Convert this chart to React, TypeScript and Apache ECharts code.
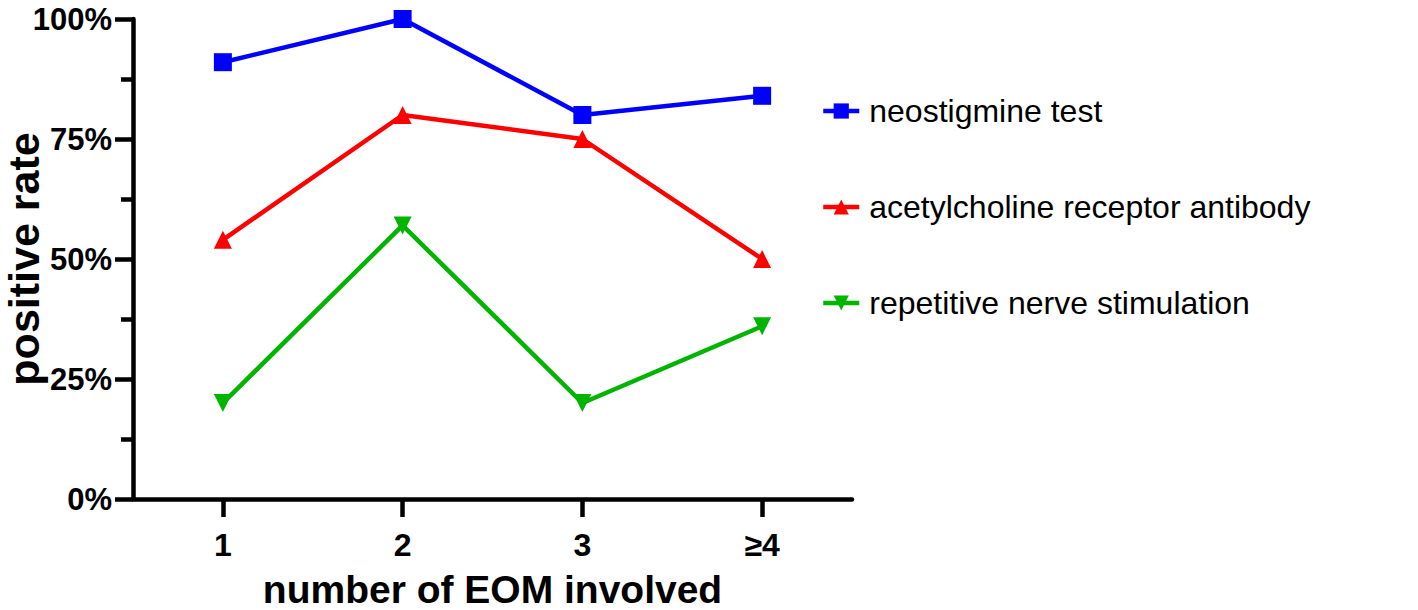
import React, { useEffect, useRef } from "react";
import * as echarts from "echarts";

const categories = ["1", "2", "3", "≥4"];
const neostigmine = [91, 100, 80, 84];
const achrAntibody = [54, 80, 75, 50];
const rns = [20, 57, 20, 36];
const yTicks = [0, 25, 50, 75, 100];

const FONT = "'Liberation Sans', Arial, Helvetica, sans-serif";

export default function App() {
  const ref = useRef<HTMLDivElement>(null);

  useEffect(() => {
    document.body.style.margin = "0";
    if (!ref.current) return;
    const chart = echarts.init(ref.current, undefined, { renderer: "svg" });
    const lineW = 4.5;
    const series = [
      { name: "neostigmine test", data: neostigmine, color: "#0000FF", symbol: "rect", size: 18, rotate: 0 },
      { name: "acetylcholine receptor antibody", data: achrAntibody, color: "#FF0000", symbol: "triangle", size: 18, rotate: 0 },
      { name: "repetitive nerve stimulation", data: rns, color: "#00B400", symbol: "triangle", size: 18, rotate: 180 },
    ];
    chart.setOption({
      animation: false,
      backgroundColor: "#ffffff",
      grid: { left: 133, top: 19, width: 719, height: 480, containLabel: false, outerBoundsMode: "none" },
      legend: {
        orient: "vertical",
        left: 816,
        top: 90,
        itemWidth: 36,
        itemHeight: 19,
        itemGap: 64,
        lineStyle: { width: 4.5 },
        textStyle: {
          fontFamily: FONT,
          fontSize: 32,
          color: "#000",
          lineHeight: 32,
          padding: [0, 0, 0, 5],
        },
        data: series.map((s) => s.name),
      },
      xAxis: {
        type: "category",
        data: categories,
        boundaryGap: true,
        name: "number of EOM involved",
        nameLocation: "middle",
        nameGap: 71,
        nameTextStyle: { fontFamily: FONT, fontSize: 39, fontWeight: "bold", color: "#000" },
        axisLine: { show: true, lineStyle: { color: "#000", width: 4.5 } },
        axisTick: { show: true, alignWithLabel: true, length: 18, lineStyle: { color: "#000", width: 4.5 } },
        axisLabel: { fontFamily: FONT, fontSize: 32, fontWeight: "bold", color: "#000", margin: 30 },
        splitLine: { show: false },
      },
      yAxis: {
        type: "value",
        min: yTicks[0],
        max: yTicks[yTicks.length - 1],
        interval: 25,
        name: "positive rate",
        nameLocation: "middle",
        nameMoveOverlap: false,
        nameGap: 88,
        nameTextStyle: { fontFamily: FONT, fontSize: 43, fontWeight: "bold", color: "#000" },
        axisLine: { show: true, lineStyle: { color: "#000", width: 4.5 } },
        axisTick: { show: true, length: 18, lineStyle: { color: "#000", width: 4.5 } },
        minorTick: { show: true, splitNumber: 2, length: 12, lineStyle: { color: "#000", width: 4.5 } },
        axisLabel: { fontFamily: FONT, fontSize: 31, fontWeight: "bold", color: "#000", margin: 21, formatter: "{value}%" },
        splitLine: { show: false },
        minorSplitLine: { show: false },
      },
      series: series.map((s) => ({
        name: s.name,
        type: "line",
        data: s.data,
        clip: false,
        symbol: s.symbol,
        symbolSize: s.size,
        symbolRotate: s.rotate,
        showAllSymbol: true,
        itemStyle: { color: s.color },
        lineStyle: { color: s.color, width: lineW },
        emphasis: { disabled: true },
      })),
    });
    return () => chart.dispose();
  }, []);

  return <div ref={ref} style={{ width: 1418, height: 610 }} />;
}
